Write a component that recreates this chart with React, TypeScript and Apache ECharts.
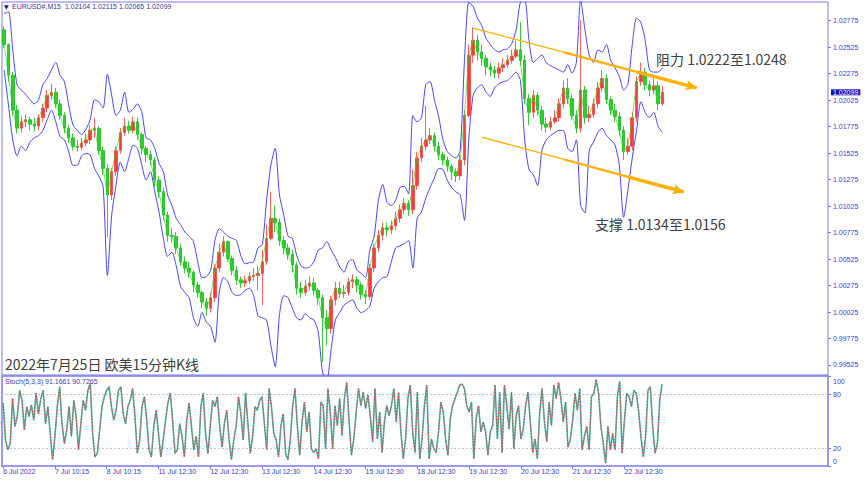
import React, { useEffect, useRef } from "react";
import * as echarts from "echarts";

// ---------- texts ----------
const symbolTitle = "EURUSD#,M15  1.02104 1.02115 1.02065 1.02099";
const stochTitle = "Stoch(5,3,3) 91.1661 90.7265";
const chartCaption = "2022年7月25日 欧美15分钟K线";
const resistanceNote = "阻力 1.0222至1.0248";
const supportNote = "支撑 1.0134至1.0156";

// ---------- axis ticks ----------
const priceTicks = [0.99525, 0.99775, 1.00025, 1.00275, 1.00525, 1.00775, 1.01025, 1.01275, 1.01525, 1.01775, 1.02025, 1.02275, 1.02525, 1.02775];
const stochTicks = [0, 20, 80, 100];
const stochLevels = [80, 20];
const xTickLabels = ["6 Jul 2022", "7 Jul 10:15", "8 Jul 10:15", "11 Jul 12:30", "12 Jul 12:30", "13 Jul 12:30", "14 Jul 12:30", "15 Jul 12:30", "18 Jul 12:30", "19 Jul 12:30", "20 Jul 12:30", "21 Jul 12:30", "22 Jul 12:30"];

// ---------- price candles (2-hour summary of the M15 chart) ----------
const open = [
  1.0269, 1.0255, 1.0226, 1.0193, 1.0176, 1.0182, 1.0184, 1.0180, 1.0178, 1.0186,
  1.0195, 1.0207, 1.0210, 1.0199, 1.0188, 1.0176, 1.0167, 1.0159, 1.0158, 1.0162,
  1.0165, 1.0174, 1.0176, 1.0155, 1.0138, 1.0113, 1.0135, 1.0155, 1.0172, 1.0178,
  1.0174, 1.0182, 1.0170, 1.0157, 1.0151, 1.0146, 1.0127, 1.0116, 1.0094, 1.0075,
  1.0074, 1.0063, 1.0050, 1.0044, 1.0040, 1.0028, 1.0021, 1.0012, 1.0006, 1.0016,
  1.0044, 1.0059, 1.0069, 1.0053, 1.0042, 1.0033, 1.0030, 1.0032, 1.0036, 1.0037,
  1.0039, 1.0050, 1.0072, 1.0091, 1.0087, 1.0070, 1.0063, 1.0057, 1.0047, 1.0025,
  1.0021, 1.0027, 1.0030, 1.0023, 1.0016, 0.9997, 0.9987, 1.0014, 1.0025, 1.0020,
  1.0021, 1.0031, 1.0033, 1.0028, 1.0019, 1.0017, 1.0044, 1.0063, 1.0075, 1.0082,
  1.0080, 1.0084, 1.0091, 1.0099, 1.0105, 1.0099, 1.0122, 1.0148, 1.0159, 1.0165,
  1.0169, 1.0159, 1.0151, 1.0146, 1.0140, 1.0135, 1.0131, 1.0146, 1.0188, 1.0245,
  1.0259, 1.0248, 1.0242, 1.0234, 1.0231, 1.0228, 1.0233, 1.0236, 1.0240, 1.0244,
  1.0250, 1.0240, 1.0204, 1.0191, 1.0207, 1.0193, 1.0180, 1.0177, 1.0182, 1.0186,
  1.0199, 1.0214, 1.0204, 1.0188, 1.0176, 1.0212, 1.0186, 1.0189, 1.0199, 1.0214,
  1.0223, 1.0203, 1.0193, 1.0187, 1.0174, 1.0154, 1.0159, 1.0186, 1.0220, 1.0229,
  1.0217, 1.0212, 1.0216, 1.0199,
];
const close = [
  1.0255, 1.0226, 1.0193, 1.0176, 1.0182, 1.0184, 1.0180, 1.0178, 1.0186, 1.0195,
  1.0207, 1.0210, 1.0199, 1.0188, 1.0176, 1.0167, 1.0159, 1.0158, 1.0162, 1.0165,
  1.0174, 1.0176, 1.0155, 1.0138, 1.0113, 1.0135, 1.0155, 1.0172, 1.0178, 1.0174,
  1.0182, 1.0170, 1.0157, 1.0151, 1.0146, 1.0127, 1.0116, 1.0094, 1.0075, 1.0074,
  1.0063, 1.0050, 1.0044, 1.0040, 1.0028, 1.0021, 1.0012, 1.0006, 1.0016, 1.0044,
  1.0059, 1.0069, 1.0053, 1.0042, 1.0033, 1.0030, 1.0032, 1.0036, 1.0037, 1.0039,
  1.0050, 1.0072, 1.0091, 1.0087, 1.0070, 1.0063, 1.0057, 1.0047, 1.0025, 1.0021,
  1.0027, 1.0030, 1.0023, 1.0016, 0.9997, 0.9987, 1.0014, 1.0025, 1.0020, 1.0021,
  1.0031, 1.0033, 1.0028, 1.0019, 1.0017, 1.0044, 1.0063, 1.0075, 1.0082, 1.0080,
  1.0084, 1.0091, 1.0099, 1.0105, 1.0099, 1.0122, 1.0148, 1.0159, 1.0165, 1.0169,
  1.0159, 1.0151, 1.0146, 1.0140, 1.0135, 1.0131, 1.0146, 1.0188, 1.0245, 1.0259,
  1.0248, 1.0242, 1.0234, 1.0231, 1.0228, 1.0233, 1.0236, 1.0240, 1.0244, 1.0250,
  1.0240, 1.0204, 1.0191, 1.0207, 1.0193, 1.0180, 1.0177, 1.0182, 1.0186, 1.0199,
  1.0214, 1.0204, 1.0188, 1.0176, 1.0212, 1.0186, 1.0189, 1.0199, 1.0214, 1.0223,
  1.0203, 1.0193, 1.0187, 1.0174, 1.0154, 1.0159, 1.0186, 1.0220, 1.0229, 1.0217,
  1.0212, 1.0216, 1.0199, 1.02099,
];
const high = [
  1.0272, 1.0256, 1.0229, 1.0198, 1.0187, 1.0189, 1.0187, 1.0186, 1.0189, 1.0199,
  1.0212, 1.0218, 1.0214, 1.0203, 1.0191, 1.0179, 1.0171, 1.0165, 1.0167, 1.0171,
  1.0179, 1.0186, 1.0178, 1.0159, 1.0142, 1.0138, 1.0159, 1.0176, 1.0186, 1.0183,
  1.0187, 1.0186, 1.0172, 1.0159, 1.0155, 1.0149, 1.0131, 1.0120, 1.0097, 1.0082,
  1.0078, 1.0067, 1.0055, 1.0050, 1.0042, 1.0031, 1.0023, 1.0016, 1.0021, 1.0048,
  1.0067, 1.0074, 1.0070, 1.0056, 1.0046, 1.0036, 1.0037, 1.0040, 1.0044, 1.0046,
  1.0061, 1.0085, 1.0116, 1.0103, 1.0091, 1.0074, 1.0067, 1.0061, 1.0050, 1.0031,
  1.0033, 1.0036, 1.0035, 1.0025, 1.0019, 1.0004, 1.0018, 1.0031, 1.0031, 1.0028,
  1.0035, 1.0038, 1.0036, 1.0031, 1.0023, 1.0048, 1.0067, 1.0080, 1.0087, 1.0087,
  1.0089, 1.0097, 1.0104, 1.0110, 1.0108, 1.0137, 1.0154, 1.0167, 1.0197, 1.0176,
  1.0172, 1.0163, 1.0154, 1.0149, 1.0142, 1.0138, 1.0151, 1.0193, 1.0255, 1.0271,
  1.0264, 1.0255, 1.0245, 1.0238, 1.0235, 1.0238, 1.0242, 1.0245, 1.0250, 1.0259,
  1.0276, 1.0245, 1.0208, 1.0212, 1.0210, 1.0197, 1.0186, 1.0187, 1.0193, 1.0204,
  1.0221, 1.0223, 1.0208, 1.0193, 1.0278, 1.0216, 1.0197, 1.0204, 1.0220, 1.0231,
  1.0227, 1.0206, 1.0199, 1.0191, 1.0178, 1.0167, 1.0191, 1.0225, 1.0238, 1.0233,
  1.0221, 1.0223, 1.0220, 1.0216,
];
const low = [
  1.0252, 1.0220, 1.0188, 1.0171, 1.0172, 1.0177, 1.0174, 1.0173, 1.0174, 1.0182,
  1.0191, 1.0203, 1.0195, 1.0184, 1.0171, 1.0162, 1.0155, 1.0154, 1.0155, 1.0159,
  1.0161, 1.0167, 1.0151, 1.0132, 1.0073, 1.0108, 1.0131, 1.0152, 1.0169, 1.0171,
  1.0171, 1.0165, 1.0151, 1.0144, 1.0141, 1.0121, 1.0110, 1.0089, 1.0069, 1.0068,
  1.0057, 1.0046, 1.0039, 1.0035, 1.0021, 1.0016, 1.0006, 0.9999, 1.0002, 1.0012,
  1.0040, 1.0055, 1.0050, 1.0037, 1.0028, 1.0025, 1.0026, 1.0029, 1.0032, 1.0023,
  1.0009, 1.0047, 1.0070, 1.0078, 1.0065, 1.0057, 1.0052, 1.0040, 1.0019, 1.0016,
  1.0018, 1.0023, 1.0018, 1.0009, 0.9955, 0.9971, 0.9982, 1.0009, 1.0016, 1.0016,
  1.0018, 1.0025, 1.0021, 1.0014, 1.0010, 1.0014, 1.0040, 1.0059, 1.0070, 1.0074,
  1.0076, 1.0080, 1.0087, 1.0095, 1.0093, 1.0095, 1.0118, 1.0144, 1.0155, 1.0161,
  1.0154, 1.0146, 1.0141, 1.0135, 1.0127, 1.0125, 1.0127, 1.0141, 1.0186, 1.0238,
  1.0240, 1.0235, 1.0226, 1.0225, 1.0223, 1.0223, 1.0229, 1.0233, 1.0237, 1.0242,
  1.0235, 1.0199, 1.0179, 1.0186, 1.0188, 1.0174, 1.0172, 1.0174, 1.0180, 1.0182,
  1.0195, 1.0199, 1.0184, 1.0171, 1.0172, 1.0180, 1.0182, 1.0186, 1.0195, 1.0210,
  1.0199, 1.0188, 1.0182, 1.0169, 1.0146, 1.0151, 1.0155, 1.0182, 1.0216, 1.0212,
  1.0206, 1.0208, 1.0193, 1.0197,
];

// ---------- envelope (blue bands) ----------
const upperBand = [
  1.0284, 1.0286, 1.0250, 1.0217, 1.0212, 1.0208, 1.0203, 1.0199, 1.0203, 1.0217,
  1.0223, 1.0231, 1.0238, 1.0226, 1.0220, 1.0198, 1.0179, 1.0174, 1.0170, 1.0175,
  1.0184, 1.0203, 1.0201, 1.0195, 1.0227, 1.0207, 1.0188, 1.0193, 1.0210, 1.0191,
  1.0194, 1.0199, 1.0191, 1.0167, 1.0165, 1.0157, 1.0143, 1.0135, 1.0113, 1.0103,
  1.0091, 1.0085, 1.0078, 1.0074, 1.0069, 1.0050, 1.0035, 1.0036, 1.0042, 1.0070,
  1.0081, 1.0078, 1.0074, 1.0072, 1.0070, 1.0056, 1.0048, 1.0049, 1.0050, 1.0063,
  1.0066, 1.0108, 1.0141, 1.0157, 1.0113, 1.0094, 1.0074, 1.0072, 1.0056, 1.0046,
  1.0044, 1.0045, 1.0050, 1.0061, 1.0063, 1.0069, 1.0061, 1.0054, 1.0045, 1.0040,
  1.0050, 1.0052, 1.0042, 1.0039, 1.0035, 1.0061, 1.0074, 1.0108, 1.0123, 1.0106,
  1.0103, 1.0108, 1.0120, 1.0121, 1.0114, 1.0188, 1.0182, 1.0186, 1.0217, 1.0220,
  1.0203, 1.0187, 1.0165, 1.0154, 1.0150, 1.0148, 1.0155, 1.0240, 1.0295, 1.0291,
  1.0280, 1.0273, 1.0261, 1.0255, 1.0250, 1.0248, 1.0250, 1.0251, 1.0256, 1.0269,
  1.0295, 1.0297, 1.0259, 1.0238, 1.0242, 1.0245, 1.0238, 1.0235, 1.0233, 1.0231,
  1.0229, 1.0236, 1.0228, 1.0238, 1.0297, 1.0269, 1.0245, 1.0238, 1.0250, 1.0248,
  1.0255, 1.0240, 1.0233, 1.0225, 1.0212, 1.0218, 1.0255, 1.0280, 1.0276, 1.0259,
  1.0231, 1.0229, 1.0229, 1.0233,
];
const lowerBand = [
  1.0231, 1.0198, 1.0165, 1.0150, 1.0159, 1.0155, 1.0163, 1.0167, 1.0169, 1.0174,
  1.0184, 1.0193, 1.0182, 1.0168, 1.0165, 1.0154, 1.0141, 1.0141, 1.0150, 1.0152,
  1.0151, 1.0138, 1.0131, 1.0121, 1.0037, 1.0094, 1.0122, 1.0144, 1.0135, 1.0148,
  1.0160, 1.0157, 1.0141, 1.0127, 1.0135, 1.0116, 1.0097, 1.0072, 1.0055, 1.0059,
  1.0046, 1.0027, 1.0021, 1.0016, 0.9997, 0.9989, 1.0002, 0.9993, 0.9989, 0.9974,
  1.0021, 1.0035, 1.0031, 1.0021, 1.0018, 1.0019, 1.0023, 1.0025, 1.0018, 0.9999,
  0.9997, 0.9995, 0.9971, 0.9951, 1.0000, 1.0018, 1.0016, 1.0006, 0.9997, 0.9995,
  1.0001, 0.9997, 0.9995, 0.9984, 0.9946, 0.9938, 0.9967, 0.9995, 1.0002, 1.0009,
  1.0012, 1.0014, 1.0006, 1.0002, 1.0004, 1.0008, 1.0025, 1.0031, 1.0035, 1.0036,
  1.0050, 1.0063, 1.0065, 1.0067, 1.0070, 1.0044, 1.0091, 1.0097, 1.0110, 1.0120,
  1.0129, 1.0138, 1.0137, 1.0127, 1.0120, 1.0116, 1.0113, 1.0089, 1.0165, 1.0207,
  1.0214, 1.0217, 1.0210, 1.0206, 1.0214, 1.0218, 1.0220, 1.0221, 1.0225, 1.0229,
  1.0221, 1.0165, 1.0137, 1.0132, 1.0122, 1.0155, 1.0165, 1.0169, 1.0172, 1.0174,
  1.0174, 1.0157, 1.0154, 1.0165, 1.0103, 1.0096, 1.0155, 1.0163, 1.0172, 1.0176,
  1.0169, 1.0165, 1.0160, 1.0141, 1.0092, 1.0118, 1.0148, 1.0174, 1.0201, 1.0191,
  1.0186, 1.0191, 1.0178, 1.0172,
];
const lastPrice = 1.02099;

// ---------- stochastic oscillator ----------
const stochK = [
  70, 29, 18, 25, 75, 44, 55, 84, 73, 40, 66, 55, 68, 51, 81, 58, 75, 84, 47, 66,
  36, 7, 33, 66, 88, 47, 25, 40, 66, 33, 73, 55, 18, 47, 73, 62, 84, 92, 36, 10,
  14, 40, 66, 77, 84, 88, 66, 51, 62, 84, 88, 58, 47, 66, 73, 86, 55, 14, 29, 66,
  77, 51, 18, 10, 44, 62, 36, 10, 29, 51, 70, 81, 51, 14, 18, 47, 33, 10, 51, 70,
  44, 18, 33, 10, 66, 81, 36, 14, 44, 73, 66, 77, 44, 21, 47, 62, 29, 7, 29, 44,
  77, 58, 29, 81, 47, 14, 33, 66, 62, 73, 77, 47, 18, 86, 66, 36, 29, 10, 44, 58,
  14, 7, 29, 66,
  86, 45, 12, 49, 71, 38, 60, 19, 15, 19, 8, 71, 67, 19, 86, 60, 19, 67, 45, 75,
  34, 75, 93, 49, 12, 30, 60, 86, 67, 82, 64, 79, 56, 27, 86, 30, 60, 15, 49, 67,
  56, 67, 86, 49, 82, 38, 8, 30, 75, 90, 38, 15, 82, 8, 30, 67, 90, 8, 30, 19,
  15, 38, 71, 60, 30, 12, 53, 67, 75, 82, 90, 91, 86, 67, 60, 71, 8, 53, 67, 38,
  49, 38, 12, 38, 45, 90, 30, 82, 15, 90, 67, 41, 82, 19, 56, 67, 30, 41, 67, 82,
  49, 15, 30, 8, 60, 86, 49, 27, 71, 45, 90, 75, 93, 75, 49, 71,
  21, 29, 51, 81, 62, 86, 18, 33, 44, 18, 77, 81, 96, 81, 44, 25, 3, 44, 18, 36,
  18, 77, 94, 14, 51, 81, 77, 66, 84, 81, 62, 33, 10, 33, 84, 88, 44, 14, 25, 73,
  91,
];
// at this resolution the signal line is indistinguishable from %K
const stochD = stochK.slice();

// ---------- analyst trend arrows: [startIndex, startPrice, endIndex, endPrice, break1, break2] ----------
const resistanceLine = [109, 1.02706, 161, 1.0214, 130, 147];
const supportLine = [111, 1.01677, 158, 1.01158, 130, 145];

// ---------- layout ----------
const MAIN_SLOTS = 192;
const STOCH_SLOTS = 351;
const STOCH_PER_DAY = 22;
const PRICE_MIN = 0.994306;
const PRICE_MAX = 1.029515;
const FRAME = "#7b7be8";
const AXIS_TEXT = "#3c3cd0";
const BLUE = "#4646ff";
const ORANGE = "#FFB000";
const SMALL_FONT = "Liberation Sans";
const CJK_FONT = "Noto Sans CJK SC";

function trendSegments(line: number[]) {
  const [x1, y1, x2, y2, b1, b2] = line;
  const at = (x: number) => y1 + ((y2 - y1) * (x - x1)) / (x2 - x1);
  const pieces: [number, number, number][] = [
    [x1, b1, 1.3],
    [b1, b2, 2.3],
    [b2, x2, 3.4],
  ];
  return pieces.map(([a, b, w], k) => [
    { coord: [a, at(a)], symbol: "none", lineStyle: { width: w, color: ORANGE, type: "solid" } },
    k === 2
      ? { coord: [b, at(b)], symbol: "arrow", symbolSize: [8, 11] }
      : { coord: [b, at(b)], symbol: "none" },
  ]);
}

export default function App() {
  const ref = useRef<HTMLDivElement>(null);

  useEffect(() => {
    document.body.style.margin = "0";
    const chart = echarts.init(ref.current!, null, { renderer: "svg" });

    const mainCats = Array.from({ length: MAIN_SLOTS }, (_, i) => String(i));
    const stochCats = Array.from({ length: STOCH_SLOTS }, (_, i) =>
      i % STOCH_PER_DAY === 0 && xTickLabels[i / STOCH_PER_DAY] ? xTickLabels[i / STOCH_PER_DAY] : ""
    );
    const candles = open.map((o, i) => [o, close[i], low[i], high[i]]);
    const showLabel = (_: number, v: string) => v !== "";

    const option: any = {
      animation: false,
      backgroundColor: "#ffffff",
      textStyle: { fontFamily: SMALL_FONT },
      grid: [
        { left: 2, top: 2, width: 826, height: 373, show: true, borderColor: FRAME, borderWidth: 1 },
        { left: 2, top: 376, width: 826, height: 90, show: true, borderColor: FRAME, borderWidth: 1.5 },
      ],
      xAxis: [
        {
          type: "category",
          gridIndex: 0,
          data: mainCats,
          boundaryGap: true,
          axisLine: { show: false },
          axisTick: { show: false },
          axisLabel: { show: false },
          splitLine: { show: false },
        },
        {
          type: "category",
          gridIndex: 1,
          data: stochCats,
          boundaryGap: true,
          axisLine: { show: false },
          axisTick: { show: true, interval: showLabel, alignWithLabel: true, length: 3, lineStyle: { color: FRAME } },
          axisLabel: {
            show: true,
            interval: showLabel,
            align: "left",
            margin: 2,
            fontSize: 7,
            color: AXIS_TEXT,
            fontFamily: SMALL_FONT,
          },
          splitLine: { show: false },
        },
      ],
      yAxis: [
        {
          type: "value",
          gridIndex: 0,
          position: "right",
          min: PRICE_MIN,
          max: PRICE_MAX,
          axisLine: { show: false },
          splitLine: { show: false },
          axisTick: { show: true, customValues: priceTicks, length: 3, lineStyle: { color: FRAME } },
          axisLabel: {
            customValues: priceTicks,
            formatter: (v: number) => v.toFixed(5),
            fontSize: 7,
            lineHeight: 7,
            margin: 5,
            color: AXIS_TEXT,
            fontFamily: SMALL_FONT,
          },
        },
        {
          type: "value",
          gridIndex: 1,
          position: "right",
          min: 0,
          max: 100,
          axisLine: { show: false },
          splitLine: { show: false },
          axisTick: { show: true, customValues: stochTicks, length: 3, lineStyle: { color: FRAME } },
          axisLabel: {
            customValues: stochTicks,
            margin: 5,
            fontSize: 7,
            color: AXIS_TEXT,
            fontFamily: SMALL_FONT,
            formatter: (v: number) => (v === 100 ? "{t|100}" : v === 0 ? "{b|0}" : String(v)),
            rich: {
              t: { padding: [10, 0, 0, 0], fontSize: 7, color: AXIS_TEXT, fontFamily: SMALL_FONT },
              b: { padding: [0, 0, 9, 0], fontSize: 7, color: AXIS_TEXT, fontFamily: SMALL_FONT },
            },
          },
        },
        {
          // current bid price tag on the price scale
          type: "value",
          gridIndex: 0,
          position: "right",
          min: PRICE_MIN,
          max: PRICE_MAX,
          axisLine: { show: false },
          axisTick: { show: false },
          splitLine: { show: false },
          axisLabel: {
            customValues: [lastPrice],
            formatter: (v: number) => v.toFixed(5),
            fontSize: 7,
            lineHeight: 6,
            margin: 3,
            padding: [0, 2, 0, 2],
            backgroundColor: "#1212b4",
            color: "#ffffff",
            fontFamily: SMALL_FONT,
          },
        },
      ],
      series: [
        {
          name: "upper",
          type: "line",
          xAxisIndex: 0,
          yAxisIndex: 0,
          data: upperBand,
          symbol: "none",
          smooth: 0.25,
          lineStyle: { color: BLUE, width: 1 },
          z: 2,
          markLine: {
            silent: true,
            animation: false,
            label: { show: false },
            symbol: ["none", "none"],
            data: [...trendSegments(resistanceLine), ...trendSegments(supportLine)],
            z: 10,
          },
        },
        {
          name: "lower",
          type: "line",
          xAxisIndex: 0,
          yAxisIndex: 0,
          data: lowerBand,
          symbol: "none",
          smooth: 0.25,
          lineStyle: { color: BLUE, width: 1 },
          z: 2,
        },
        {
          name: "price",
          type: "candlestick",
          xAxisIndex: 0,
          yAxisIndex: 0,
          data: candles,
          barWidth: "70%",
          itemStyle: {
            color: "#ff1c1c",
            color0: "#14c414",
            borderColor: "#ff4a4a",
            borderColor0: "#20c020",
            borderWidth: 1,
            opacity: 0.88,
          },
          z: 3,
        },
        {
          name: "close",
          type: "line",
          xAxisIndex: 0,
          yAxisIndex: 0,
          data: close,
          symbol: "none",
          lineStyle: { color: "#22d822", width: 1, opacity: 0.65 },
          z: 4,
        },
        {
          name: "%K",
          type: "line",
          xAxisIndex: 1,
          yAxisIndex: 1,
          data: stochK,
          symbol: "none",
          lineStyle: { color: "#3fbfb2", width: 1.6 },
          z: 3,
          markLine: {
            silent: true,
            symbol: ["none", "none"],
            label: { show: false },
            lineStyle: { color: "#c4c4c4", width: 1, type: [2, 2] },
            data: stochLevels.map((v) => ({ yAxis: v })),
            z: 1,
          },
        },
        {
          name: "%D",
          type: "line",
          xAxisIndex: 1,
          yAxisIndex: 1,
          data: stochD,
          symbol: "none",
          lineStyle: { color: "#f03a3a", width: 1, type: [1.5, 1.5] },
          z: 4,
        },
      ],
      graphic: [
        { type: "text", left: 4, top: 3, style: { text: "▼", fontSize: 6, fill: "#141470", fontFamily: "DejaVu Sans" } },
        { type: "text", left: 12, top: 3, style: { text: symbolTitle, fontSize: 7, fill: "#3a3a9c", fontFamily: SMALL_FONT } },
        { type: "text", left: 5, top: 378, style: { text: stochTitle, fontSize: 7, fill: "#3a3ab4", fontFamily: SMALL_FONT } },
        { type: "text", left: 5, top: 357, style: { text: chartCaption, fontSize: 14, fill: "#404040", fontFamily: CJK_FONT } },
        { type: "text", left: 656, top: 52, style: { text: resistanceNote, fontSize: 14, fill: "#404040", fontFamily: CJK_FONT } },
        { type: "text", left: 595, top: 217, style: { text: supportNote, fontSize: 14, fill: "#404040", fontFamily: CJK_FONT } },
      ],
    };

    chart.setOption(option);
    return () => chart.dispose();
  }, []);

  return <div ref={ref} style={{ position: "absolute", left: 0, top: 0, width: 865, height: 480 }} />;
}
